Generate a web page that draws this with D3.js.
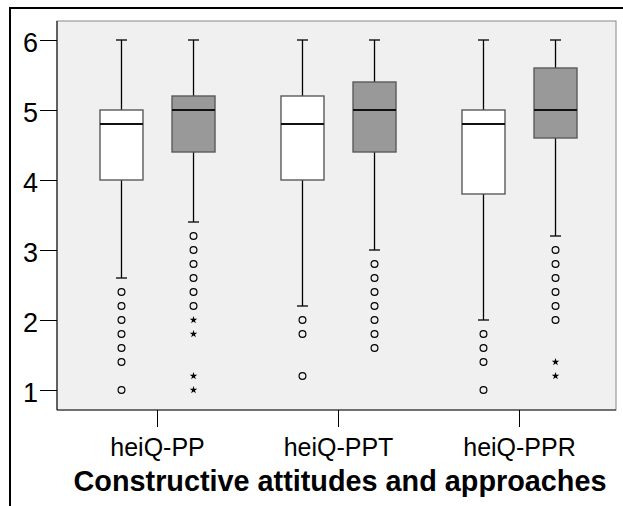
<!DOCTYPE html>
<html>
<head>
<meta charset="utf-8">
<script src="https://cdn.jsdelivr.net/npm/d3@7"></script>
<style>
  html, body { margin: 0; padding: 0; background: #fff; }
  svg { display: block; font-family: Arial, "Liberation Sans", sans-serif; }
</style>
</head>
<body>
<svg id="chart" width="623" height="506"></svg>
<script>
// Scale categories and the two groups drawn per category
const categories = ["heiQ-PP", "heiQ-PPT", "heiQ-PPR"];
const groups = ["pre", "post"];
const yTicks = [1, 2, 3, 4, 5, 6];
const xTitle = "Constructive attitudes and approaches";

// Box summaries: [lower whisker, Q1, median, Q3, upper whisker], per category
const preStats = [
  [2.6, 4.0, 4.8, 5.0, 6.0],
  [2.2, 4.0, 4.8, 5.2, 6.0],
  [2.0, 3.8, 4.8, 5.0, 6.0]
];
const postStats = [
  [3.4, 4.4, 5.0, 5.2, 6.0],
  [3.0, 4.4, 5.0, 5.4, 6.0],
  [3.2, 4.6, 5.0, 5.6, 6.0]
];

// Outliers (circles) and extreme values (stars)
const preOutliers = [
  [2.4, 2.2, 2.0, 1.8, 1.6, 1.4, 1.0],
  [2.0, 1.8, 1.2],
  [1.8, 1.6, 1.4, 1.0]
];
const preExtremes = [[], [], []];
const postOutliers = [
  [3.2, 3.0, 2.8, 2.6, 2.4, 2.2],
  [2.8, 2.6, 2.4, 2.2, 2.0, 1.8, 1.6],
  [3.0, 2.8, 2.6, 2.4, 2.2, 2.0]
];
const postExtremes = [
  [2.0, 1.8, 1.2, 1.0],
  [],
  [1.4, 1.2]
];

const svg = d3.select("#chart");
const FONT = "Arial, 'Liberation Sans', sans-serif";

// Outer frame (runs past the right and bottom edges)
svg.append("rect")
  .attr("x", 10).attr("y", 8)
  .attr("width", 640).attr("height", 520)
  .attr("fill", "none").attr("stroke", "#000").attr("stroke-width", 2);

const plot = { left: 57, top: 21, right: 616, bottom: 410 };

const y = d3.scaleLinear().domain([1, 6]).range([390, 40]);
const x = d3.scaleBand().domain(categories)
  .range([plot.left + 10, plot.right - 6]).paddingInner(0).paddingOuter(0);
const xg = d3.scaleBand().domain(groups)
  .range([0, x.bandwidth()]).paddingInner(0.403).paddingOuter(0.458);

// Plot background
svg.append("rect")
  .attr("x", plot.left).attr("y", plot.top)
  .attr("width", plot.right - plot.left).attr("height", plot.bottom - plot.top)
  .attr("fill", "#f0f0f0").attr("stroke", "#888").attr("stroke-width", 1);
svg.append("line")
  .attr("x1", plot.left).attr("x2", plot.right)
  .attr("y1", plot.bottom).attr("y2", plot.bottom)
  .attr("stroke", "#222").attr("stroke-width", 1.2);
svg.append("line")
  .attr("x1", plot.left).attr("x2", plot.left)
  .attr("y1", plot.top).attr("y2", plot.bottom)
  .attr("stroke", "#222").attr("stroke-width", 1.2);

// Y axis
const yAxis = svg.append("g").attr("transform", `translate(${plot.left},0)`)
  .call(d3.axisLeft(y).tickValues(yTicks).tickSize(17).tickPadding(2).tickFormat(d3.format("d")));
yAxis.select(".domain").remove();
yAxis.selectAll("line").attr("stroke", "#000");
yAxis.selectAll("text").attr("font-size", 27).attr("fill", "#000")
  .attr("font-family", FONT).attr("dy", "0.42em");

// X axis
const xAxis = svg.append("g").attr("transform", `translate(0,${plot.bottom})`)
  .call(d3.axisBottom(x).tickSize(17));
xAxis.select(".domain").remove();
xAxis.selectAll("line").attr("stroke", "#000");
xAxis.selectAll("text").attr("font-size", 25).attr("fill", "#000")
  .attr("font-family", FONT).attr("y", 46).attr("dy", 0);

svg.append("text")
  .attr("x", 340).attr("y", 491)
  .attr("text-anchor", "middle")
  .attr("font-family", FONT)
  .attr("font-size", 28.8).attr("font-weight", "bold")
  .text(xTitle);

const series = [
  { key: "pre", stats: preStats, out: preOutliers, ext: preExtremes, fill: "#ffffff" },
  { key: "post", stats: postStats, out: postOutliers, ext: postExtremes, fill: "#999999" }
];

const capW = 11;
const star = d3.symbol().type(d3.symbolStar).size(18);

series.forEach(s => {
  categories.forEach((c, i) => {
    const [lo, q1, med, q3, hi] = s.stats[i];
    const x0 = x(c) + xg(s.key);
    const w = xg.bandwidth();
    const cx = x0 + w / 2;
    const g = svg.append("g");

    // whiskers
    g.append("line").attr("x1", cx).attr("x2", cx).attr("y1", y(hi)).attr("y2", y(q3))
      .attr("stroke", "#000").attr("stroke-width", 1.3);
    g.append("line").attr("x1", cx).attr("x2", cx).attr("y1", y(q1)).attr("y2", y(lo))
      .attr("stroke", "#000").attr("stroke-width", 1.3);
    [hi, lo].forEach(v => g.append("line")
      .attr("x1", cx - capW / 2).attr("x2", cx + capW / 2)
      .attr("y1", y(v)).attr("y2", y(v))
      .attr("stroke", "#000").attr("stroke-width", 1.3));

    // box
    g.append("rect").attr("x", x0).attr("y", y(q3))
      .attr("width", w).attr("height", y(q1) - y(q3))
      .attr("fill", s.fill).attr("stroke", "#5a5a5a").attr("stroke-width", 1.4);
    // median
    g.append("line").attr("x1", x0).attr("x2", x0 + w)
      .attr("y1", y(med)).attr("y2", y(med))
      .attr("stroke", "#111").attr("stroke-width", 2);

    // outliers
    g.selectAll("circle.o").data(s.out[i]).enter().append("circle")
      .attr("cx", cx).attr("cy", d => y(d)).attr("r", 3.4)
      .attr("fill", "none").attr("stroke", "#000").attr("stroke-width", 1.2);
    // extremes
    g.selectAll("path.e").data(s.ext[i]).enter().append("path")
      .attr("d", star)
      .attr("transform", d => `translate(${cx},${y(d)})`)
      .attr("fill", "#000");
  });
});
</script>
</body>
</html>
